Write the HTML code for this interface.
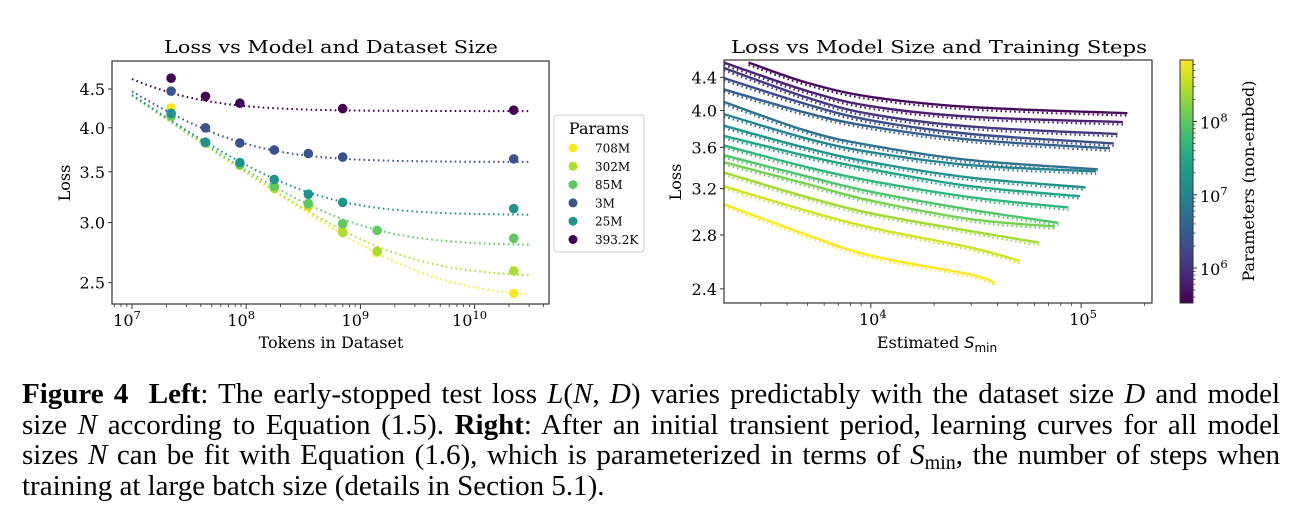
<!DOCTYPE html>
<html><head><meta charset="utf-8"><style>
html,body{margin:0;padding:0;background:#fff;}
body{position:relative;width:1298px;height:522px;overflow:hidden;}
svg{display:block;position:absolute;left:0;top:0;}
.cap{position:absolute;left:22px;top:379px;width:1258px;font-family:"Liberation Serif","Times New Roman",serif;font-size:29px;line-height:30.5px;color:#000;}
.cap .ln{display:block;white-space:nowrap;text-align:justify;text-align-last:justify;}
.cap .ln.last{text-align:left;text-align-last:left;}
.cap .sub{font-size:20px;vertical-align:-5px;line-height:0;}
</style></head><body>
<svg id="fig" width="1298" height="522" viewBox="0 0 1298 522" xmlns="http://www.w3.org/2000/svg">
<defs>
<clipPath id="clipL"><rect x="112" y="61" width="437" height="243"/></clipPath>
<clipPath id="clipR"><rect x="724" y="60" width="428" height="243"/></clipPath>
<linearGradient id="viridisGrad" x1="0" y1="1" x2="0" y2="0">
<stop offset="0" stop-color="#440154"/><stop offset="0.1" stop-color="#482475"/><stop offset="0.2" stop-color="#414487"/><stop offset="0.3" stop-color="#355f8d"/><stop offset="0.4" stop-color="#2a788e"/><stop offset="0.5" stop-color="#21918c"/><stop offset="0.6" stop-color="#22a884"/><stop offset="0.7" stop-color="#44bf70"/><stop offset="0.8" stop-color="#7ad151"/><stop offset="0.9" stop-color="#bddf26"/><stop offset="1" stop-color="#fde725"/>
</linearGradient>
</defs>
<g id="left"></g>
<g id="right"></g>
</svg>
<div class="cap">
<span class="ln"><b>Figure 4</b>&nbsp; <b>Left</b>: The early-stopped test loss <i>L</i>(<i>N</i>, <i>D</i>) varies predictably with the dataset size <i>D</i> and model</span>
<span class="ln">size <i>N</i> according to Equation (1.5). <b>Right</b>: After an initial transient period, learning curves for all model</span>
<span class="ln">sizes <i>N</i> can be fit with Equation (1.6), which is parameterized in terms of <i>S</i><span class="sub">min</span>, the number of steps when</span>
<span class="ln last">training at large batch size (details in Section 5.1).</span>
</div>
<script>
// ---------- LEFT CHART DATA ----------
const leftSeriesNames = ["708M","302M","85M","3M","25M","393.2K"];
const leftModelParams = [708e6, 302e6, 85e6, 3e6, 25e6, 393.2e3];
const leftColors = ["#fde725","#addc30","#5ec962","#3b528b","#21918c","#440154"];
const leftTokens708 = [2.2e7,4.4e7,8.8e7,1.76e8,3.5e8,7e8,1.4e9,2.2e10];
const leftLoss708   = [4.25,3.82,3.57,3.33,3.15,2.92,2.74,2.42];
const leftTokens302 = [2.2e7,4.4e7,8.8e7,1.76e8,3.5e8,7e8,1.4e9,2.2e10];
const leftLoss302   = [4.14,3.82,3.57,3.33,3.16,2.91,2.75,2.59];
const leftTokens85  = [2.2e7,4.4e7,8.8e7,1.76e8,3.5e8,7e8,1.4e9,2.2e10];
const leftLoss85    = [4.15,3.82,3.58,3.35,3.18,2.99,2.93,2.86];
const leftTokens3M  = [2.2e7,4.4e7,8.8e7,1.76e8,3.5e8,7e8,2.2e10];
const leftLoss3M    = [4.47,4.00,3.82,3.74,3.70,3.66,3.64];
const leftTokens25  = [2.2e7,4.4e7,8.8e7,1.76e8,3.5e8,7e8,2.2e10];
const leftLoss25    = [4.18,3.83,3.60,3.42,3.27,3.19,3.13];
const leftTokens393 = [2.2e7,4.4e7,8.8e7,7e8,2.2e10];
const leftLoss393   = [4.65,4.40,4.31,4.24,4.22];
const fitAlphaN = 0.076, fitAlphaD = 0.103, fitNc = 6.4e13, fitDc = 1.8e13;
const leftXTicks = [1e7,1e8,1e9,1e10];
const leftXTickExp = ["7","8","9","10"];
const leftYTicks = [2.5,3.0,3.5,4.0,4.5];
const leftYTickLabels = ["2.5","3.0","3.5","4.0","4.5"];

// ---------- RIGHT CHART DATA ----------
const rightStepsStart = [2620,2000,2000,2000,2000,2000,2000,2000,2000,2000,2000,2000,2000,2000,2000];
const rightStepsEnd   = [1.66e5,1.58e5,1.49e5,1.43e5,1.37e5,1.20e5,1.18e5,1.05e5,9.9e4,8.7e4,7.8e4,7.5e4,6.3e4,5.1e4,3.9e4];
const rightLossStart  = [4.59,4.59,4.52,4.39,4.25,4.10,3.96,3.83,3.72,3.62,3.52,3.45,3.35,3.22,3.06];
const rightLoss5k     = [4.33,4.23,4.15,4.07,3.97,3.77,3.69,3.59,3.51,3.40,3.31,3.24,3.12,3.00,2.80];
const rightLoss10k    = [4.16,4.05,3.96,3.89,3.82,3.62,3.55,3.45,3.38,3.27,3.17,3.09,2.98,2.86,2.64];
const rightLoss30k    = [4.04,3.93,3.82,3.74,3.68,3.47,3.42,3.30,3.22,3.12,3.01,2.93,2.83,2.70,2.50];
const rightLossEnd    = [3.97,3.87,3.74,3.64,3.59,3.38,3.36,3.21,3.13,3.03,2.90,2.87,2.74,2.60,2.44];
const rightXTicks = [1e4,1e5];
const rightXTickExp = ["4","5"];
const rightYTicks = [2.4,2.8,3.2,3.6,4.0,4.4];
const rightYTickLabels = ["2.4","2.8","3.2","3.6","4.0","4.4"];
const cbarTicks = [1e6,1e7,1e8];
const cbarTickExp = ["6","7","8"];

const NS = "http://www.w3.org/2000/svg";
function mk(tag, attrs, parent){const e=document.createElementNS(NS,tag);for(const k in attrs)e.setAttribute(k,attrs[k]);parent.appendChild(e);return e;}
const SERIF = "'DejaVu Serif', serif";

const vir = [[0,"#440154"],[0.1,"#482475"],[0.2,"#414487"],[0.3,"#355f8d"],[0.4,"#2a788e"],[0.5,"#21918c"],[0.6,"#22a884"],[0.7,"#44bf70"],[0.8,"#7ad151"],[0.9,"#bddf26"],[1,"#fde725"]];
function hex2(h){return [1,3,5].map(i=>parseInt(h.substr(i,2),16));}
function viridis(t){t=Math.max(0,Math.min(1,t));for(let i=0;i<vir.length-1;i++){if(t<=vir[i+1][0]){const f=(t-vir[i][0])/(vir[i+1][0]-vir[i][0]);const a=hex2(vir[i][1]),b=hex2(vir[i+1][1]);return "rgb("+a.map((v,j)=>Math.round(v+(b[j]-v)*f)).join(",")+")";}}return vir[vir.length-1][1];}

function smoothPath(pts){
  let d="M"+pts[0][0].toFixed(1)+","+pts[0][1].toFixed(1);
  for(let i=0;i<pts.length-1;i++){
    const p0=pts[Math.max(0,i-1)],p1=pts[i],p2=pts[i+1],p3=pts[Math.min(pts.length-1,i+2)];
    const c1=[p1[0]+(p2[0]-p0[0])/6,p1[1]+(p2[1]-p0[1])/6];
    const c2=[p2[0]-(p3[0]-p1[0])/6,p2[1]-(p3[1]-p1[1])/6];
    d+=" C"+c1[0].toFixed(1)+","+c1[1].toFixed(1)+" "+c2[0].toFixed(1)+","+c2[1].toFixed(1)+" "+p2[0].toFixed(1)+","+p2[1].toFixed(1);
  }
  return d;
}

// ===== LEFT CHART =====
(function(){
  const g=document.getElementById('left');
  const X0=112,X1=549,Y0=61,Y1=304;
  const xL=D=>132+(Math.log10(D)-7)*114.2;
  const yL=L=>89+(Math.log(4.5)-Math.log(L))*329.5;
  const t=mk('text',{x:331,y:53,'text-anchor':'middle','font-family':SERIF,'font-size':18,textLength:334,lengthAdjust:'spacingAndGlyphs'},g);
  t.textContent="Loss vs Model and Dataset Size";
  
  
  const plot=mk('g',{'clip-path':'url(#clipL)'},g);
  
  
  const tokens=[leftTokens708,leftTokens302,leftTokens85,leftTokens3M,leftTokens25,leftTokens393];
  const losses=[leftLoss708,leftLoss302,leftLoss85,leftLoss3M,leftLoss25,leftLoss393];
  leftModelParams.forEach((N,si)=>{
    const pts=[];
    for(let lg=7;lg<=10.48;lg+=0.04){const D=Math.pow(10,lg);const L=Math.pow(Math.pow(fitNc/N,fitAlphaN/fitAlphaD)+fitDc/D,fitAlphaD);pts.push(xL(D).toFixed(1)+","+yL(L).toFixed(1));}
    const p=mk('polyline',{points:pts.join(' '),fill:'none',stroke:leftColors[si],'stroke-width':2,'stroke-dasharray':'1.6,3.2'},plot);
    
    
  });
  [0,1,2,4,3,5].forEach(si=>{
    tokens[si].forEach((D,i)=>{
      const c=mk('circle',{cx:xL(D),cy:yL(losses[si][i]),r:4.8,fill:leftColors[si]},plot);
      
      
    });
  });
  const box=mk('rect',{x:X0,y:Y0,width:X1-X0,height:Y1-Y0,fill:'none',stroke:'#333','stroke-width':1.2},g);
  
  
  leftXTicks.forEach((v,i)=>{
    const x=xL(v);
    mk('line',{x1:x,y1:Y1,x2:x,y2:Y1+5,stroke:'#333','stroke-width':1},g);
    const tx=mk('text',{x:x-5,y:326,'text-anchor':'middle','font-family':SERIF,'font-size':16},g);
    
    
    tx.innerHTML='10<tspan dy="-7" font-size="11.5">'+leftXTickExp[i]+'</tspan>';
  });
  for(let e=6;e<=10;e++)for(let m=2;m<=9;m++){const v=m*Math.pow(10,e);const x=xL(v);if(x>X0&&x<X1)mk('line',{x1:x,y1:Y1,x2:x,y2:Y1+3,stroke:'#333','stroke-width':0.8},g);}
  leftYTicks.forEach((v,i)=>{
    const y=yL(v);
    mk('line',{x1:X0-4,y1:y,x2:X0,y2:y,stroke:'#333','stroke-width':1},g);
    const ty=mk('text',{x:X0-7,y:y+6,'text-anchor':'end','font-family':SERIF,'font-size':16},g);
    ty.textContent=leftYTickLabels[i];
    
    
  });
  const xl=mk('text',{x:331,y:348,'text-anchor':'middle','font-family':SERIF,'font-size':16},g);
  xl.textContent="Tokens in Dataset";
  
  
  const yl=mk('text',{x:0,y:0,'text-anchor':'middle','font-family':SERIF,'font-size':16,transform:'translate(70,183) rotate(-90)'},g);
  yl.textContent="Loss";
  
  
  const lg=mk('g',{},g);
  
  
  mk('rect',{x:554,y:115,width:90,height:137,rx:3,fill:'#fff',stroke:'#ccc','stroke-width':1},lg);
  const lt=mk('text',{x:599,y:134,'text-anchor':'middle','font-family':SERIF,'font-size':16},lg);
  lt.textContent="Params";
  
  
  leftSeriesNames.forEach((n,i)=>{
    const y=148+i*18.3;
    const c=mk('circle',{cx:573,cy:y,r:4.5,fill:leftColors[i]},lg);
    
    
    const tt=mk('text',{x:595,y:y+4.5,'font-family':SERIF,'font-size':12},lg);
    tt.textContent=n;
    
    
  });
})();

// ===== RIGHT CHART =====
(function(){
  const g=document.getElementById('right');
  const X0=724,X1=1152,Y0=60,Y1=303;
  const xR=S=>870.8+(Math.log10(S)-4)*210.3;
  const yR=L=>77.3+(Math.log(4.4)-Math.log(L))*349;
  const t=mk('text',{x:939,y:53,'text-anchor':'middle','font-family':SERIF,'font-size':18,textLength:416,lengthAdjust:'spacingAndGlyphs'},g);
  t.textContent="Loss vs Model Size and Training Steps";
  
  
  const plot=mk('g',{'clip-path':'url(#clipR)'},g);
  
  
  const n=rightLossStart.length;
  for(let i=0;i<n;i++){
    const col=viridis(0.02+i*0.98/(n-1));
    const S=[rightStepsStart[i],5e3,1e4,3e4,rightStepsEnd[i]];
    const L=[rightLossStart[i],rightLoss5k[i],rightLoss10k[i],rightLoss30k[i],rightLossEnd[i]];
    const pts=S.map((s,k)=>[xR(s),yR(L[k])]);
    const fitPts=S.map((s,k)=>[xR(s),yR(L[k])+2.5]);
    const f=mk('path',{d:smoothPath(fitPts),fill:'none',stroke:col,'stroke-width':2,'stroke-dasharray':'1.6,3'},plot);
    
    
    const p=mk('path',{d:smoothPath(pts),fill:'none',stroke:col,'stroke-width':2.4,'stroke-linejoin':'round'},plot);
    
    
  }
  const box=mk('rect',{x:X0,y:Y0,width:X1-X0,height:Y1-Y0,fill:'none',stroke:'#333','stroke-width':1.2},g);
  
  
  rightXTicks.forEach((v,i)=>{
    const x=xR(v);
    mk('line',{x1:x,y1:Y1,x2:x,y2:Y1+5,stroke:'#333','stroke-width':1},g);
    const tx=mk('text',{x:x+2,y:325,'text-anchor':'middle','font-family':SERIF,'font-size':16},g);
    
    
    tx.innerHTML='10<tspan dy="-7" font-size="11.5">'+rightXTickExp[i]+'</tspan>';
  });
  for(let e=3;e<=5;e++)for(let m=2;m<=9;m++){const v=m*Math.pow(10,e);const x=xR(v);if(x>X0&&x<X1)mk('line',{x1:x,y1:Y1,x2:x,y2:Y1+3,stroke:'#333','stroke-width':0.8},g);}
  rightYTicks.forEach((v,i)=>{
    const y=yR(v);
    mk('line',{x1:X0-4,y1:y,x2:X0,y2:y,stroke:'#333','stroke-width':1},g);
    const ty=mk('text',{x:X0-7,y:y+6,'text-anchor':'end','font-family':SERIF,'font-size':16},g);
    ty.textContent=rightYTickLabels[i];
    
    
  });
  const xl=mk('text',{x:937,y:348,'text-anchor':'middle','font-family':SERIF,'font-size':16},g);
  xl.innerHTML='Estimated <tspan font-style="italic" font-family="DejaVu Sans, sans-serif">S</tspan><tspan font-size="12" dy="4" font-family="DejaVu Sans, sans-serif">min</tspan>';
  
  
  const yl=mk('text',{x:0,y:0,'text-anchor':'middle','font-family':SERIF,'font-size':16,transform:'translate(681,182) rotate(-90)'},g);
  yl.textContent="Loss";
  
  
  const cb=mk('g',{},g);
  
  
  mk('rect',{x:1180,y:60,width:13,height:243,fill:'url(#viridisGrad)',stroke:'#333','stroke-width':1},cb);
  const yC=N=>268-(Math.log10(N)-6)*73.2;
  cbarTicks.forEach((v,i)=>{
    const y=yC(v);
    mk('line',{x1:1193,y1:y,x2:1197,y2:y,stroke:'#333','stroke-width':1},cb);
    const tx=mk('text',{x:1200,y:y+7,'font-family':SERIF,'font-size':16},cb);
    
    
    tx.innerHTML='10<tspan dy="-7" font-size="11.5">'+cbarTickExp[i]+'</tspan>';
  });
  for(let e=5;e<=8;e++)for(let m=2;m<=9;m++){const y=yC(m*Math.pow(10,e));if(y>60&&y<303)mk('line',{x1:1193,y1:y,x2:1195.5,y2:y,stroke:'#333','stroke-width':0.8},cb);}
  const cl=mk('text',{x:0,y:0,'text-anchor':'middle','font-family':SERIF,'font-size':16,transform:'translate(1254,181) rotate(-90)'},cb);
  cl.textContent="Parameters (non-embed)";
  
  
})();
</script>
</body></html>
